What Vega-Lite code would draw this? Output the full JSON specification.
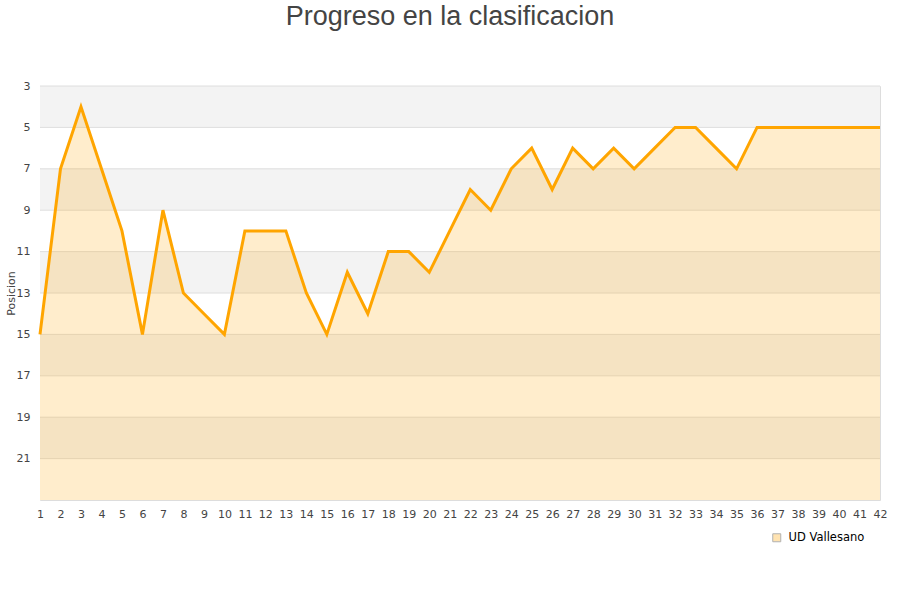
{
  "$schema": "https://vega.github.io/schema/vega-lite/v6.json",
  "autosize": "none",
  "width": 840,
  "height": 414,
  "padding": {"left": 40, "top": 86, "right": 20, "bottom": 100},
  "background": "white",
  "title": {
    "text": "Progreso en la clasificacion",
    "font": "Liberation Sans",
    "fontSize": 27,
    "fontWeight": "normal",
    "color": "#444444",
    "anchor": "middle",
    "dx": -10,
    "offset": 49
  },
  "config": {
    "view": {"stroke": "#dddddd", "strokeWidth": 1},
    "axis": {"labelFont": "DejaVu Sans", "labelFontSize": 11, "labelColor": "#444444", "titleFont": "DejaVu Sans", "titleColor": "#444444", "titleFontWeight": "normal", "labelOverlap": false}
  },
  "datasets": {
    "bandas": [
      {"desde": 3, "hasta": 5, "tono": "a"},
      {"desde": 5, "hasta": 7, "tono": "b"},
      {"desde": 7, "hasta": 9, "tono": "a"},
      {"desde": 9, "hasta": 11, "tono": "b"},
      {"desde": 11, "hasta": 13, "tono": "a"},
      {"desde": 13, "hasta": 15, "tono": "b"},
      {"desde": 15, "hasta": 17, "tono": "a"},
      {"desde": 17, "hasta": 19, "tono": "b"},
      {"desde": 19, "hasta": 21, "tono": "a"},
      {"desde": 21, "hasta": 23, "tono": "b"}
    ],
    "serie": [
      {"jornada": 1, "posicion": 15, "equipo": "UD Vallesano"},
      {"jornada": 2, "posicion": 7, "equipo": "UD Vallesano"},
      {"jornada": 3, "posicion": 4, "equipo": "UD Vallesano"},
      {"jornada": 4, "posicion": 7, "equipo": "UD Vallesano"},
      {"jornada": 5, "posicion": 10, "equipo": "UD Vallesano"},
      {"jornada": 6, "posicion": 15, "equipo": "UD Vallesano"},
      {"jornada": 7, "posicion": 9, "equipo": "UD Vallesano"},
      {"jornada": 8, "posicion": 13, "equipo": "UD Vallesano"},
      {"jornada": 9, "posicion": 14, "equipo": "UD Vallesano"},
      {"jornada": 10, "posicion": 15, "equipo": "UD Vallesano"},
      {"jornada": 11, "posicion": 10, "equipo": "UD Vallesano"},
      {"jornada": 12, "posicion": 10, "equipo": "UD Vallesano"},
      {"jornada": 13, "posicion": 10, "equipo": "UD Vallesano"},
      {"jornada": 14, "posicion": 13, "equipo": "UD Vallesano"},
      {"jornada": 15, "posicion": 15, "equipo": "UD Vallesano"},
      {"jornada": 16, "posicion": 12, "equipo": "UD Vallesano"},
      {"jornada": 17, "posicion": 14, "equipo": "UD Vallesano"},
      {"jornada": 18, "posicion": 11, "equipo": "UD Vallesano"},
      {"jornada": 19, "posicion": 11, "equipo": "UD Vallesano"},
      {"jornada": 20, "posicion": 12, "equipo": "UD Vallesano"},
      {"jornada": 21, "posicion": 10, "equipo": "UD Vallesano"},
      {"jornada": 22, "posicion": 8, "equipo": "UD Vallesano"},
      {"jornada": 23, "posicion": 9, "equipo": "UD Vallesano"},
      {"jornada": 24, "posicion": 7, "equipo": "UD Vallesano"},
      {"jornada": 25, "posicion": 6, "equipo": "UD Vallesano"},
      {"jornada": 26, "posicion": 8, "equipo": "UD Vallesano"},
      {"jornada": 27, "posicion": 6, "equipo": "UD Vallesano"},
      {"jornada": 28, "posicion": 7, "equipo": "UD Vallesano"},
      {"jornada": 29, "posicion": 6, "equipo": "UD Vallesano"},
      {"jornada": 30, "posicion": 7, "equipo": "UD Vallesano"},
      {"jornada": 31, "posicion": 6, "equipo": "UD Vallesano"},
      {"jornada": 32, "posicion": 5, "equipo": "UD Vallesano"},
      {"jornada": 33, "posicion": 5, "equipo": "UD Vallesano"},
      {"jornada": 34, "posicion": 6, "equipo": "UD Vallesano"},
      {"jornada": 35, "posicion": 7, "equipo": "UD Vallesano"},
      {"jornada": 36, "posicion": 5, "equipo": "UD Vallesano"},
      {"jornada": 37, "posicion": 5, "equipo": "UD Vallesano"},
      {"jornada": 38, "posicion": 5, "equipo": "UD Vallesano"},
      {"jornada": 39, "posicion": 5, "equipo": "UD Vallesano"},
      {"jornada": 40, "posicion": 5, "equipo": "UD Vallesano"},
      {"jornada": 41, "posicion": 5, "equipo": "UD Vallesano"},
      {"jornada": 42, "posicion": 5, "equipo": "UD Vallesano"}
    ]
  },
  "layer": [
    {
      "data": {"name": "bandas"},
      "mark": {"type": "rect"},
      "encoding": {
        "y": {"field": "desde", "type": "quantitative", "scale": {"domain": [3, 23], "reverse": true, "nice": false, "zero": false},
          "axis": {"values": [3, 5, 7, 9, 11, 13, 15, 17, 19, 21], "ticks": false, "domain": false, "grid": false, "labelPadding": 10, "title": "Posicion", "titleFontSize": 11, "titlePadding": 0}},
        "y2": {"field": "hasta"},
        "fill": {"field": "tono", "type": "nominal", "scale": {"domain": ["a", "b"], "range": ["#f3f3f3", "#ffffff"]}, "legend": null}
      }
    },
    {
      "data": {"name": "bandas"},
      "mark": {"type": "rule", "stroke": "#dedede", "strokeWidth": 1},
      "encoding": {
        "y": {"field": "desde", "type": "quantitative"}
      }
    },
    {
      "data": {"name": "serie"},
      "mark": {"type": "area", "fillOpacity": 0.2, "interpolate": "linear"},
      "encoding": {
        "x": {"field": "jornada", "type": "quantitative", "scale": {"domain": [1, 42], "nice": false, "zero": false},
          "axis": {"values": [1,2,3,4,5,6,7,8,9,10,11,12,13,14,15,16,17,18,19,20,21,22,23,24,25,26,27,28,29,30,31,32,33,34,35,36,37,38,39,40,41,42], "ticks": false, "domain": false, "grid": false, "labelFlush": false, "labelOverlap": false, "labelPadding": 8, "title": null}},
        "y": {"field": "posicion", "type": "quantitative"},
        "y2": {"datum": 23},
        "color": {"field": "equipo", "type": "nominal", "scale": {"range": ["#FFA500"]},
          "legend": {"orient": "none", "legendX": 731, "legendY": 446, "title": null, "symbolType": "square", "symbolSize": 64, "symbolOpacity": 0.3, "symbolStrokeColor": "#000000", "symbolStrokeWidth": 1, "labelOffset": 6, "labelFont": "DejaVu Sans", "labelFontSize": 11.5, "labelColor": "#000000"}}
      }
    },
    {
      "data": {"name": "serie"},
      "mark": {"type": "line", "stroke": "#FFA500", "strokeWidth": 3, "interpolate": "linear"},
      "encoding": {
        "x": {"field": "jornada", "type": "quantitative",
          "axis": {"values": [1,2,3,4,5,6,7,8,9,10,11,12,13,14,15,16,17,18,19,20,21,22,23,24,25,26,27,28,29,30,31,32,33,34,35,36,37,38,39,40,41,42], "ticks": false, "domain": false, "grid": false, "labelFlush": false, "labelOverlap": false, "labelPadding": 8, "title": null}},
        "y": {"field": "posicion", "type": "quantitative"}
      }
    }
  ]
}
